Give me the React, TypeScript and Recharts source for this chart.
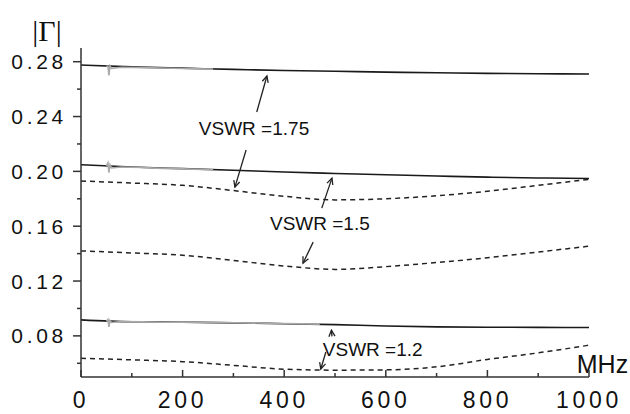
import { LineChart, Line, XAxis, YAxis, ReferenceLine, ReferenceDot } from "recharts";

// frequency points (MHz) shared by the six main curves
const freq = [0, 100, 200, 300, 400, 500, 600, 700, 800, 900, 1000];

// measured |Γ| (solid) and reference curves (dashed)
const solid175 = [0.2776, 0.2762, 0.2753, 0.2744, 0.2736, 0.273, 0.2724, 0.2719, 0.2715, 0.2712, 0.271];
const solid15 = [0.2048, 0.2032, 0.202, 0.2008, 0.1995, 0.1985, 0.1975, 0.1966, 0.1958, 0.1952, 0.1948];
const solid12 = [0.0917, 0.0903, 0.09, 0.0895, 0.0889, 0.0882, 0.0872, 0.0866, 0.0863, 0.0862, 0.0861];
const dashed175 = [0.193, 0.1915, 0.1898, 0.186, 0.1818, 0.1792, 0.18, 0.1822, 0.1855, 0.1898, 0.1942];
const dashed15 = [0.142, 0.1405, 0.1388, 0.135, 0.131, 0.1285, 0.1305, 0.1335, 0.137, 0.1412, 0.1454];
const dashed12 = [0.0637, 0.0625, 0.0612, 0.0585, 0.0557, 0.055, 0.0552, 0.0574, 0.0628, 0.0676, 0.0732];

// lighter, noisier trace segments laid over the solid curves
const grayFreq = [50, 53, 55, 57, 60, 80, 120, 160, 200, 260];
const gray175 = [0.2768, 0.2767, 0.27, 0.2769, 0.2752, 0.276, 0.2757, 0.2754, 0.275, 0.2746];
const gray15 = [0.204, 0.2062, 0.199, 0.2048, 0.2025, 0.2032, 0.2028, 0.2022, 0.2018, 0.2012];
const grayFreq12 = [50, 53, 55, 57, 60, 80, 120, 160, 200, 300, 400, 470];
const gray12 = [0.0906, 0.092, 0.0865, 0.0912, 0.0898, 0.0905, 0.0902, 0.0899, 0.0901, 0.0896, 0.089, 0.0886];

const xTicks = [0, 100, 200, 300, 400, 500, 600, 700, 800, 900, 1000];
const yTicks = [0.06, 0.08, 0.1, 0.12, 0.14, 0.16, 0.18, 0.2, 0.22, 0.24, 0.26, 0.28];

const toRows = (xs: number[], ys: number[]) => xs.map((f, i) => ({ f, v: ys[i] }));

const FONT = "Liberation Sans, Arial, sans-serif";
const INK = "#111";

function YTick(props: any) {
  const { x, y, payload } = props;
  const major = Math.round(payload.value * 100) % 4 === 0;
  return (
    <g>
      <line x1={x - (major ? 8 : 4)} x2={x} y1={y} y2={y} stroke="#333" strokeWidth={1.5} />
      {major && (
        <text x={x - 14} y={y + 7.5} textAnchor="end" fontSize={21} letterSpacing={3.7} fill={INK} fontFamily={FONT}>
          {payload.value.toFixed(2)}
        </text>
      )}
    </g>
  );
}

function XTick(props: any) {
  const { x, y, payload } = props;
  const major = payload.value % 200 === 0;
  return (
    <g>
      <line x1={x} x2={x} y1={y} y2={y - (major ? 7 : 4)} stroke="#333" strokeWidth={1.5} />
      {major && (
        <text x={x} y={y + 31} textAnchor="middle" fontSize={23} letterSpacing={3.7} fill={INK} fontFamily={FONT}>
          {payload.value}
        </text>
      )}
    </g>
  );
}

function Arrow(props: any) {
  const { x1, y1, x2, y2 } = props;
  const a = Math.atan2(y2 - y1, x2 - x1);
  const len = 7;
  const s = 0.45;
  return (
    <g stroke="#222" strokeWidth={1.3} fill="none">
      <line x1={x1} y1={y1} x2={x2} y2={y2} />
      <polyline
        points={`${x2 - len * Math.cos(a - s)},${y2 - len * Math.sin(a - s)} ${x2},${y2} ${x2 - len * Math.cos(a + s)},${y2 - len * Math.sin(a + s)}`}
      />
    </g>
  );
}

const label = (text: string, size: number) => (props: any) => (
  <text x={props.cx} y={props.cy} fontSize={size} fill={INK} fontFamily={FONT}>
    {text}
  </text>
);

export default function App() {
  return (
    <div style={{ position: "absolute", left: 0, top: 0, width: 630, height: 414, background: "#fff" }}>
      <LineChart width={630} height={414} margin={{ top: 48, right: 41, bottom: 0, left: 0 }}>
        <XAxis
          type="number"
          dataKey="f"
          domain={[0, 1000]}
          ticks={xTicks}
          tick={<XTick />}
          tickSize={0}
          tickMargin={0}
          tickLine={false}
          height={37}
          axisLine={{ stroke: "#333", strokeWidth: 1.5 }}
          allowDuplicatedCategory={false}
        />
        <YAxis
          type="number"
          domain={[0.05, 0.29]}
          ticks={yTicks}
          tick={<YTick />}
          tickSize={0}
          tickMargin={0}
          tickLine={false}
          width={81}
          axisLine={{ stroke: "#333", strokeWidth: 1.5 }}
          label={{
            content: (p: any) => (
              <text x={p.viewBox.x + 47} y={p.viewBox.y - 7} textAnchor="middle" fontSize={30} fill={INK} fontFamily="Liberation Serif, serif">
                |Γ|
              </text>
            ),
          }}
        />

        <Line data={toRows(freq, solid175)} dataKey="v" type="monotone" stroke="#1a1a1a" strokeWidth={1.6} dot={false} isAnimationActive={false} />
        <Line data={toRows(freq, solid15)} dataKey="v" type="monotone" stroke="#1a1a1a" strokeWidth={1.6} dot={false} isAnimationActive={false} />
        <Line data={toRows(freq, solid12)} dataKey="v" type="monotone" stroke="#1a1a1a" strokeWidth={1.6} dot={false} isAnimationActive={false} />
        <Line data={toRows(grayFreq, gray175)} dataKey="v" type="linear" stroke="#aaa" strokeWidth={1.6} dot={false} isAnimationActive={false} />
        <Line data={toRows(grayFreq, gray15)} dataKey="v" type="linear" stroke="#aaa" strokeWidth={1.6} dot={false} isAnimationActive={false} />
        <Line data={toRows(grayFreq12, gray12)} dataKey="v" type="linear" stroke="#aaa" strokeWidth={1.6} dot={false} isAnimationActive={false} />
        <Line data={toRows(freq, dashed175)} dataKey="v" type="monotone" stroke="#222" strokeWidth={1.5} strokeDasharray="5 4" dot={false} isAnimationActive={false} />
        <Line data={toRows(freq, dashed15)} dataKey="v" type="monotone" stroke="#222" strokeWidth={1.5} strokeDasharray="5 4" dot={false} isAnimationActive={false} />
        <Line data={toRows(freq, dashed12)} dataKey="v" type="monotone" stroke="#222" strokeWidth={1.5} strokeDasharray="5 4" dot={false} isAnimationActive={false} />

        <ReferenceLine segment={[{ x: 346, y: 0.2433 }, { x: 366, y: 0.2696 }]} shape={Arrow} />
        <ReferenceLine segment={[{ x: 325, y: 0.2156 }, { x: 303, y: 0.1885 }]} shape={Arrow} />
        <ReferenceLine segment={[{ x: 474, y: 0.1732 }, { x: 494, y: 0.1951 }]} shape={Arrow} />
        <ReferenceLine segment={[{ x: 457, y: 0.1484 }, { x: 437, y: 0.133 }]} shape={Arrow} />
        <ReferenceLine segment={[{ x: 494, y: 0.0796 }, { x: 493, y: 0.0842 }]} shape={Arrow} />
        <ReferenceLine segment={[{ x: 482, y: 0.0682 }, { x: 472, y: 0.0558 }]} shape={Arrow} />

        <ReferenceDot x={232} y={0.2265} r={0} shape={label("VSWR =1.75", 19)} />
        <ReferenceDot x={372} y={0.1572} r={0} shape={label("VSWR =1.5", 19)} />
        <ReferenceDot x={476} y={0.0652} r={0} shape={label("VSWR =1.2", 19)} />
        <ReferenceDot x={976} y={0.0528} r={0} shape={label("MHz", 25)} />
      </LineChart>
    </div>
  );
}
